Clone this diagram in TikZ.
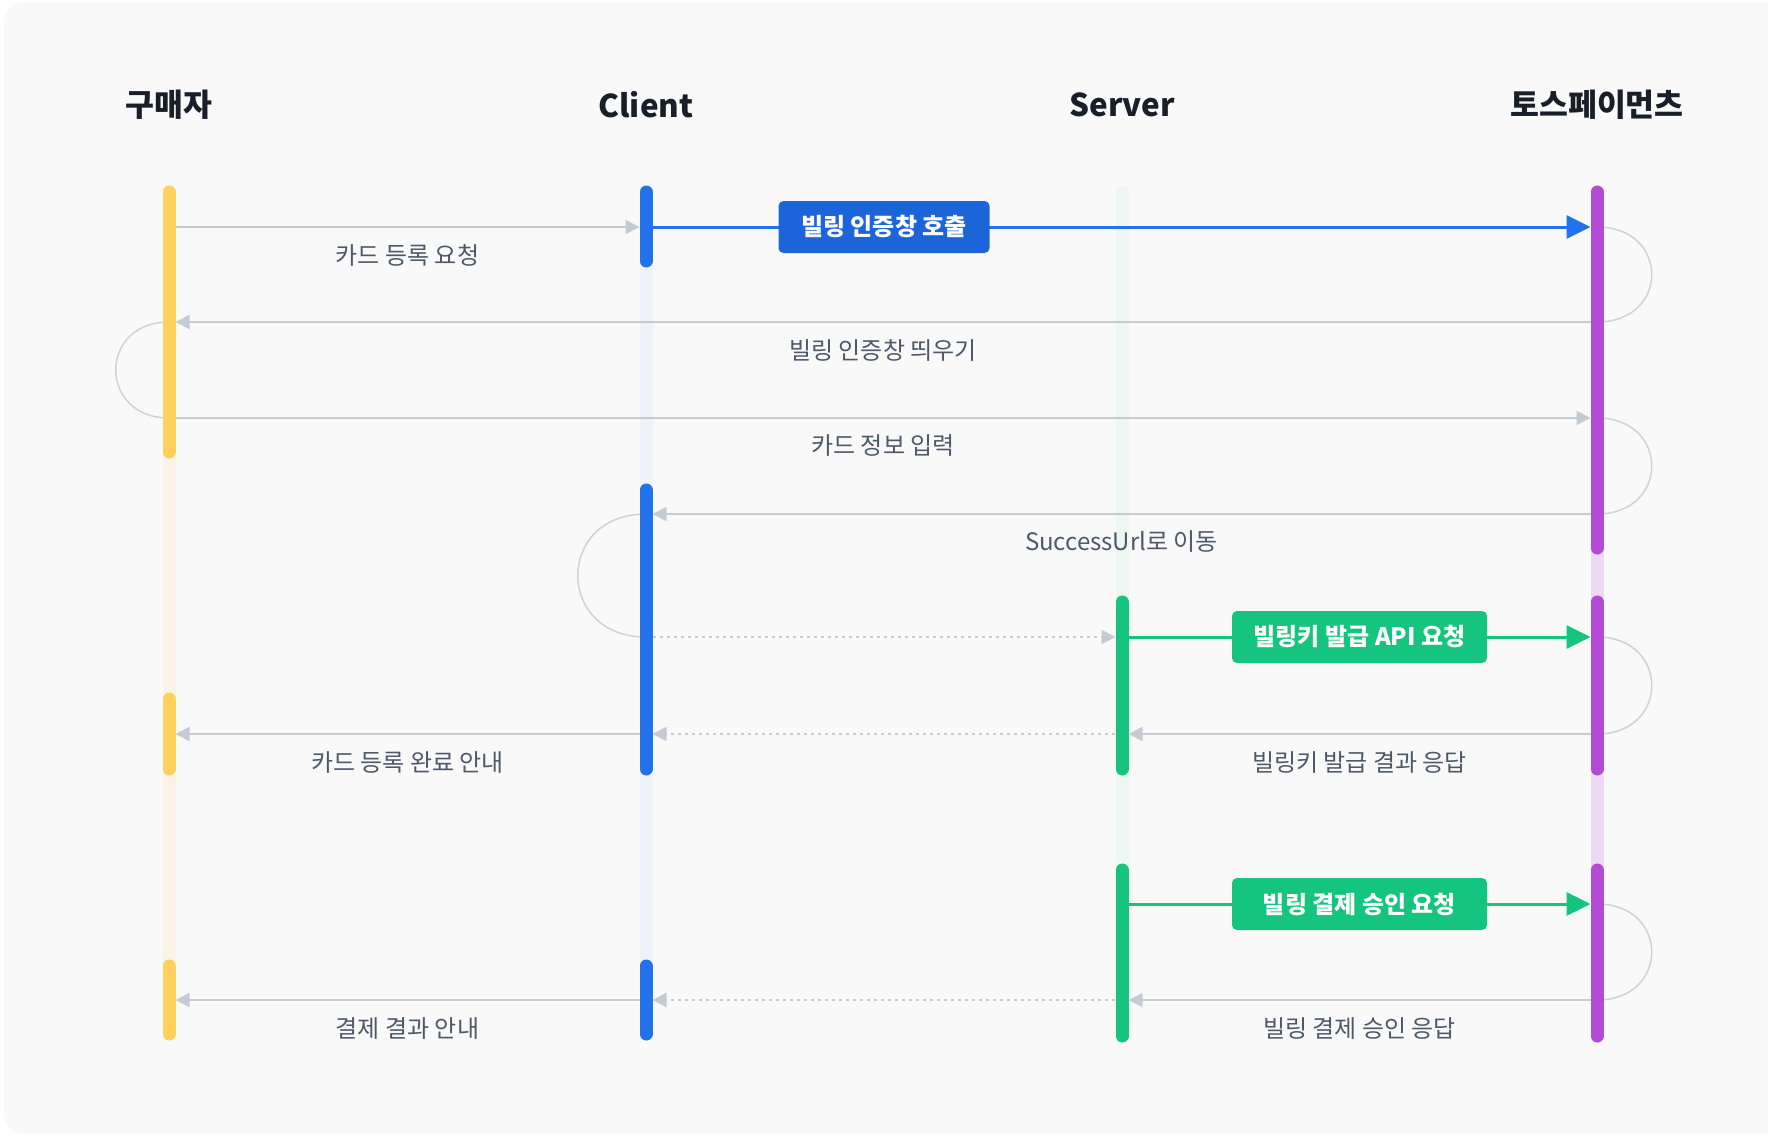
\documentclass[tikz,border=0pt]{standalone}
\usepackage{fontspec}
\setmainfont{Noto Sans CJK KR}
\usetikzlibrary{arrows.meta,calc}
\definecolor{panelbg}{HTML}{F9F9FA}
\definecolor{buyercol}{HTML}{FFD05B}
\definecolor{buyerfade}{HTML}{FBF4E6}
\definecolor{clientcol}{HTML}{2272EB}
\definecolor{clientfade}{HTML}{EEF2F9}
\definecolor{boxblue}{HTML}{1B64DA}
\definecolor{servercol}{HTML}{15C47E}
\definecolor{serverfade}{HTML}{EDF6F1}
\definecolor{tosscol}{HTML}{B44BD7}
\definecolor{tossfade}{HTML}{ECD9F4}
\definecolor{arrowgray}{HTML}{C5CAD3}
\definecolor{loopgray}{HTML}{CDD2D9}
\definecolor{labelgray}{HTML}{4E5968}
\definecolor{headcol}{HTML}{191F28}
\tikzset{
  head/.style={text=headcol, font=\bfseries\fontsize{15.7}{18}\selectfont},
  label/.style={text=labelgray, font=\fontsize{12}{14}\selectfont, yshift=-14pt},
  lane/.style={line width=6.5pt, line cap=round},
  msg/.style={draw=arrowgray, line width=0.9pt, -{Triangle[length=7pt,width=7pt]}, shorten >=3.25pt},
  ret/.style={msg, dash pattern=on 1.5pt off 2pt},
  call/.style={line width=1.5pt, -{Triangle[length=12pt,width=11.5pt]}, shorten >=3.25pt},
  loopline/.style={draw=loopgray, line width=0.75pt},
  callbox/.style={rounded corners=2.5pt, text=white, font=\bfseries\fontsize{12}{14}\selectfont,
    minimum height=26pt, inner sep=0pt},
}

\begin{document}
\begin{tikzpicture}[x=0.5pt, y=-0.5pt]
%%%%% START %%%%%
\useasboundingbox (0,0) rectangle (1768,1136);
\fill[white] (0,0) rectangle (1768,1136);
\clip (0,0) rectangle (1768,1136);
\fill[panelbg, rounded corners=10pt] (4,2) rectangle (1800,1134);

\node[head] (buyer) at (169,105) {구매자};
\node[head] (client) at (646,105) {Client};
\node[head] (server) at (1122,105) {Server};
\node[head] (toss) at (1597,105) {토스페이먼츠};

\coordinate (r1) at (0,227);
\coordinate (r2) at (0,322);
\coordinate (r3) at (0,418);
\coordinate (r4) at (0,514);
\coordinate (r5) at (0,637);
\coordinate (r6) at (0,734);
\coordinate (r7) at (0,904);
\coordinate (r8) at (0,1000);

% faded life lines
\draw[lane, buyerfade] (169,192) -- (169,1034);
\draw[lane, clientfade] (646,192) -- (646,1034);
\draw[lane, serverfade] (1122,192) -- (1122,1036);
\draw[lane, tossfade] (1597,192) -- (1597,1036);

% messages
\draw[msg] (buyer |- r1) -- node[label] (m1) {카드 등록 요청} (client |- r1);
\draw[call, clientcol] (client |- r1) -- (toss |- r1);
\draw[msg] (toss |- r2) -- node[label] (m2) {빌링 인증창 띄우기} (buyer |- r2);
\draw[msg] (buyer |- r3) -- node[label] (m3) {카드 정보 입력} (toss |- r3);
\draw[msg] (toss |- r4) -- node[label] (m4) {SuccessUrl로 이동} (client |- r4);

\draw[ret] (client |- r5) -- (server |- r5);
\draw[call, servercol] (server |- r5) -- (toss |- r5);
\draw[msg] (toss |- r6) -- node[label] (m5) {빌링키 발급 결과 응답} (server |- r6);
\draw[ret] (server |- r6) -- (client |- r6);
\draw[msg] (client |- r6) -- node[label] (m6) {카드 등록 완료 안내} (buyer |- r6);

\draw[call, servercol] (server |- r7) -- (toss |- r7);
\draw[msg] (toss |- r8) -- node[label] (m7) {빌링 결제 승인 응답} (server |- r8);
\draw[ret] (server |- r8) -- (client |- r8);
\draw[msg] (client |- r8) -- node[label] (m8) {결제 결과 안내} (buyer |- r8);

% self loops
\draw[loopline] (toss |- r1) .. controls +(73,0) and +(73,0) .. (toss |- r2);
\draw[loopline] (buyer |- r2) .. controls +(-71,0) and +(-71,0) .. (buyer |- r3);
\draw[loopline] (toss |- r3) .. controls +(73,0) and +(73,0) .. (toss |- r4);
\draw[loopline] (client |- r4) .. controls +(-91,0) and +(-91,0) .. (client |- r5);
\draw[loopline] (toss |- r5) .. controls +(73,0) and +(73,0) .. (toss |- r6);
\draw[loopline] (toss |- r7) .. controls +(73,0) and +(73,0) .. (toss |- r8);

% active life lines
\draw[lane, buyercol] (169,192) -- (169,452);
\draw[lane, buyercol] (169,699) -- (169,769);
\draw[lane, buyercol] (169,966) -- (169,1034);
\draw[lane, clientcol] (646,192) -- (646,261);
\draw[lane, clientcol] (646,490) -- (646,769);
\draw[lane, clientcol] (646,966) -- (646,1034);
\draw[lane, servercol] (1122,602) -- (1122,769);
\draw[lane, servercol] (1122,870) -- (1122,1036);
\draw[lane, tosscol] (1597,192) -- (1597,548);
\draw[lane, tosscol] (1597,602) -- (1597,769);
\draw[lane, tosscol] (1597,870) -- (1597,1036);

% call boxes
\node[callbox, fill=boxblue, minimum width=105.5pt] (c1)
  at ($(client |- r1)!0.5!(server |- r1)$) {빌링 인증창 호출};
\node[callbox, fill=servercol, minimum width=127.5pt] (c2)
  at ($(server |- r5)!0.5!(toss |- r5)$) {빌링키 발급 API 요청};
\node[callbox, fill=servercol, minimum width=127.5pt] (c3)
  at ($(server |- r7)!0.5!(toss |- r7)$) {빌링 결제 승인 요청};
%%%%% END %%%%%
\end{tikzpicture}
\end{document}
